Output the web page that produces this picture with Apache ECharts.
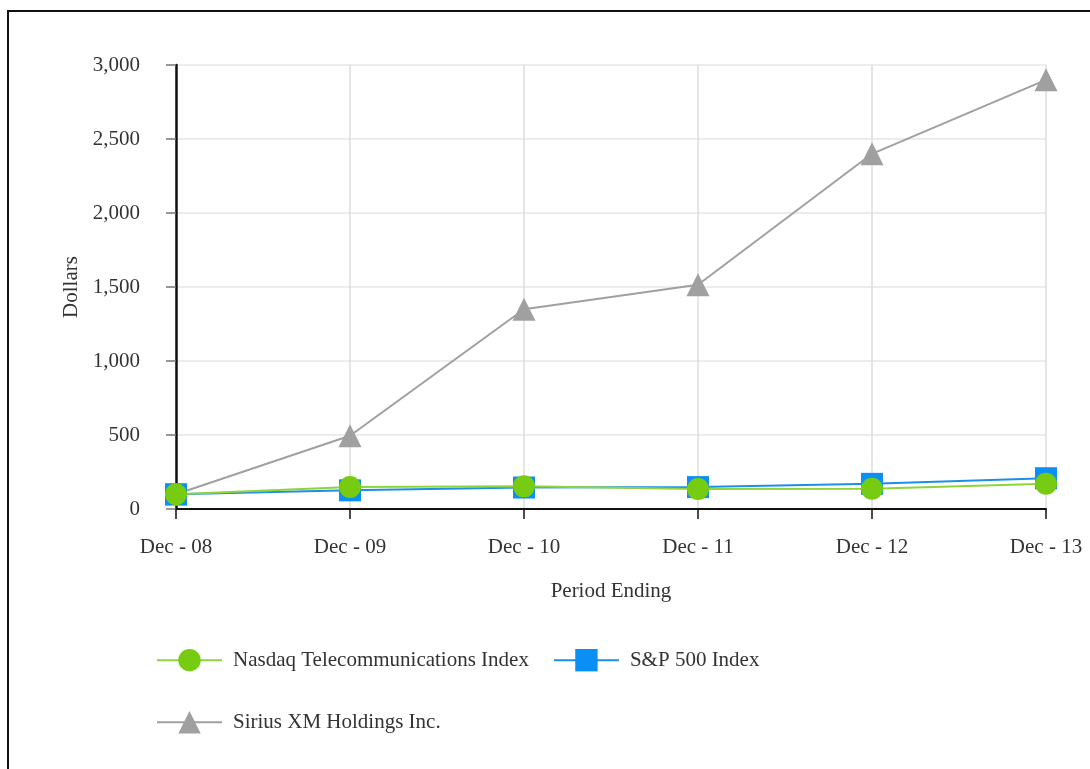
<!DOCTYPE html>
<html>
<head>
<meta charset="utf-8">
<script src="https://cdn.jsdelivr.net/npm/echarts@6/dist/echarts.min.js"></script>
<style>
html,body{margin:0;padding:0;background:#fff;}
#frame{position:absolute;left:7px;top:10px;width:1100px;height:757px;border-left:2px solid #111;border-top:2px solid #111;border-bottom:1px solid #ddd;}
#chart{position:absolute;left:0;top:0;width:1090px;height:769px;}
</style>
</head>
<body>
<div id="frame"></div>
<div id="chart"></div>
<script>
const categories = ['Dec - 08', 'Dec - 09', 'Dec - 10', 'Dec - 11', 'Dec - 12', 'Dec - 13'];
const nasdaqTelecom = [100, 149, 153, 135, 137, 171];
const sp500 = [100, 126, 145, 148, 170, 208];
const siriusXM = [100, 495, 1350, 1515, 2400, 2900];
const yTicks = [0, 500, 1000, 1500, 2000, 2500, 3000];

const FONT = 'Liberation Serif';
const FS = 21;
const chart = echarts.init(document.getElementById('chart'), null, {renderer: 'canvas'});
chart.setOption({
  backgroundColor: 'transparent',
  animation: false,
  grid: {left: 176, right: 44, top: 65, bottom: 260, containLabel: false},
  legend: [
    {
      left: 151, top: 644, orient: 'horizontal',
      itemWidth: 65, itemHeight: 28, itemGap: 24,
      data: ['Nasdaq Telecommunications Index', 'S&P 500 Index'],
      textStyle: {fontFamily: FONT, fontSize: FS, color: '#333', padding: [0, 0, 0, 6]}
    },
    {
      left: 151, top: 706, orient: 'horizontal',
      itemWidth: 65, itemHeight: 28,
      data: ['Sirius XM Holdings Inc.'],
      textStyle: {fontFamily: FONT, fontSize: FS, color: '#333', padding: [0, 0, 0, 6]}
    }
  ],
  xAxis: {
    type: 'category',
    data: categories,
    boundaryGap: false,
    name: 'Period Ending',
    nameLocation: 'middle',
    nameGap: 72,
    nameTextStyle: {fontFamily: FONT, fontSize: FS, color: '#333'},
    axisLine: {lineStyle: {color: '#111', width: 2}},
    axisTick: {show: true, length: 10, lineStyle: {color: '#111', width: 1.5}},
    axisLabel: {fontFamily: FONT, fontSize: FS, color: '#333', margin: 28},
    splitLine: {show: true, lineStyle: {color: '#dcdcdc', width: 1.5}}
  },
  yAxis: {
    type: 'value',
    min: 0, max: 3000, interval: 500,
    name: 'Dollars',
    nameLocation: 'middle',
    nameGap: 94,
    nameRotate: 90,
    nameTextStyle: {fontFamily: FONT, fontSize: FS, color: '#333'},
    axisLine: {show: true, lineStyle: {color: '#111', width: 2.5}},
    axisTick: {show: true, length: 10, lineStyle: {color: '#777', width: 1.5}},
    axisLabel: {
      fontFamily: FONT, fontSize: FS, color: '#333', margin: 36,
      formatter: v => yTicks.includes(v) ? v.toLocaleString('en-US') : ''
    },
    splitLine: {show: true, lineStyle: {color: '#e6e6e6', width: 1.5}}
  },
  series: [
    {
      name: 'Sirius XM Holdings Inc.',
      type: 'line',
      data: siriusXM,
      symbol: 'triangle',
      symbolSize: 23,
      z: 2,
      lineStyle: {color: '#a0a0a0', width: 2},
      itemStyle: {color: '#a0a0a0'}
    },
    {
      name: 'S&P 500 Index',
      type: 'line',
      data: sp500,
      symbol: 'rect',
      symbolSize: 22,
      z: 3,
      lineStyle: {color: '#1e8fe6', width: 2},
      itemStyle: {color: '#0a8ff5'}
    },
    {
      name: 'Nasdaq Telecommunications Index',
      type: 'line',
      data: nasdaqTelecom,
      symbol: 'circle',
      symbolSize: 22,
      z: 4,
      lineStyle: {color: '#8fd43a', width: 2},
      itemStyle: {color: '#77cc11'}
    }
  ]
});
</script>
</body>
</html>
